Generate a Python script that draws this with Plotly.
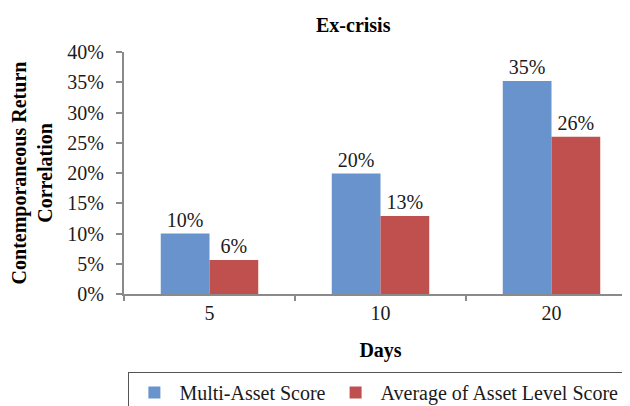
import plotly.graph_objects as go

categories = ["5", "10", "20"]
multi_asset = [0.100, 0.199, 0.352]
avg_asset_level = [0.056, 0.129, 0.260]
series_names = ["Multi-Asset Score", "Average of Asset Level Score"]
y_ticks = [0, 0.05, 0.10, 0.15, 0.20, 0.25, 0.30, 0.35, 0.40]

FONT = "Liberation Serif, Times New Roman, serif"
AXIS = "#8a8a8a"

fig = go.Figure()
fig.add_trace(go.Bar(x=categories, y=multi_asset, name=series_names[0],
                     marker=dict(color="#6893CC", line=dict(width=0)),
                     texttemplate="%{y:.0%}", textposition="outside",
                     textfont=dict(family=FONT, size=20, color="#1a1a1a"),
                     cliponaxis=False))
fig.add_trace(go.Bar(x=categories, y=avg_asset_level, name=series_names[1],
                     marker=dict(color="#C0504D", line=dict(width=0)),
                     texttemplate="%{y:.0%}", textposition="outside",
                     textfont=dict(family=FONT, size=20, color="#1a1a1a"),
                     cliponaxis=False))

fig.update_layout(
    width=630, height=406,
    margin=dict(l=116, r=1, t=44, b=111),
    paper_bgcolor="white", plot_bgcolor="white",
    font=dict(family=FONT, size=20, color="#1a1a1a"),
    barmode="group", bargap=0.43, bargroupgap=0,
    title=dict(text="<b>Ex-crisis</b>", x=0.548, xanchor="center",
               y=0.958, yanchor="middle", font=dict(family=FONT, size=20, color="black")),
    showlegend=True,
    legend=dict(orientation="h", x=0.492, xanchor="center", y=-0.322, yanchor="top",
                bordercolor="#555555", borderwidth=1, font=dict(family=FONT, size=20),
                traceorder="normal", itemwidth=40),
)
fig.update_xaxes(
    type="category", tickson="boundaries", ticks="outside", ticklen=5, tickcolor=AXIS,
    tickwidth=2, showline=True, linecolor=AXIS, linewidth=2, showgrid=False,
    tickfont=dict(family=FONT, size=20),
    title=dict(text="<b>Days</b>", font=dict(family=FONT, size=20, color="black"), standoff=20),
)
fig.update_yaxes(
    range=[0, 0.40], tickvals=y_ticks, tickformat=".0%", ticks="outside", ticklen=6,
    tickcolor=AXIS, tickwidth=2, showline=True, linecolor=AXIS, linewidth=2,
    showgrid=False, zeroline=False, tickfont=dict(family=FONT, size=20),
    ticklabelstandoff=8,
    title=dict(text="<b>Contemporaneous Return<br>Correlation</b>",
               font=dict(family=FONT, size=20, color="black"), standoff=10),
)

fig.write_html("out.html")
